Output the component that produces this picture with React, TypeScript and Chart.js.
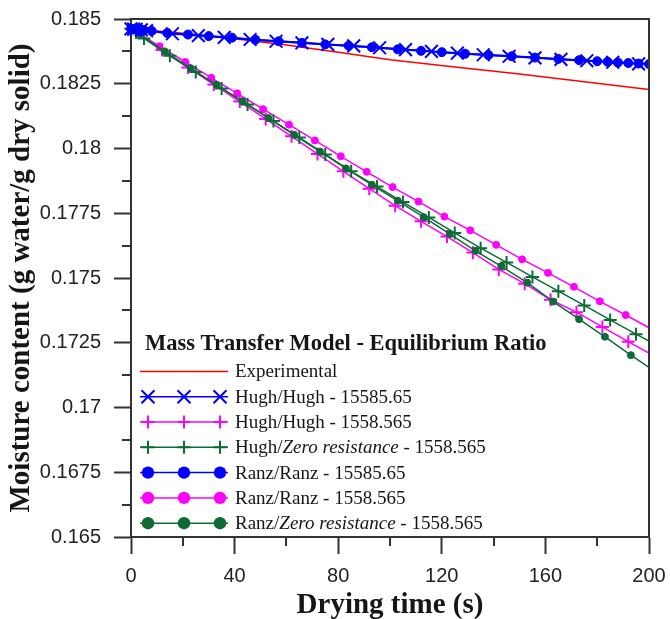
import React, { useEffect, useRef } from 'react';
import { Chart, registerables } from 'chart.js';

Chart.register(...registerables);

// ---------- axis ticks ----------
const xTicks = [0, 40, 80, 120, 160, 200];
const xMinorTicks = [20, 60, 100, 140, 180];
const yTicks = [0.165, 0.1675, 0.17, 0.1725, 0.175, 0.1775, 0.18, 0.1825, 0.185];
const yTickLabels = ['0.165', '0.1675', '0.17', '0.1725', '0.175', '0.1775', '0.18', '0.1825', '0.185'];
const yMinorTicks = [0.16625, 0.16875, 0.17125, 0.17375, 0.17625, 0.17875, 0.18125, 0.18375];

const xTitle = 'Drying time (s)';
const yTitle = 'Moisture content (g water/g dry solid)';
const legendTitle = 'Mass Transfer Model - Equilibrium Ratio';

// ---------- series ----------
// Experimental
const expTime = [0, 20, 40, 60, 80, 100, 125, 150, 175, 200];
const expMoisture = [0.18462, 0.18445, 0.18424, 0.184, 0.18372, 0.18343, 0.18315, 0.18288, 0.18258, 0.18228];

// Hugh/Hugh - 15585.65 (blue X)
const hhHighTime = [0, 1, 2, 4, 6, 16, 26, 36, 46, 56, 66, 76, 86, 96, 106, 116, 126, 136, 146, 156, 166, 176, 186, 196];
const hhHighMoisture = [0.18462, 0.18461, 0.1846, 0.18458, 0.18455, 0.18443, 0.18436, 0.18429, 0.18421, 0.18414, 0.18408, 0.18402, 0.18396, 0.18389, 0.18382, 0.18375, 0.18368, 0.18362, 0.18356, 0.1835, 0.18344, 0.18339, 0.18333, 0.18327];

// Ranz/Ranz - 15585.65 (blue circles)
const rrHighTime = [0, 1, 3, 5, 8, 14, 22, 30, 39, 48, 57, 66, 75, 84, 93, 103, 112, 120, 129, 138, 147, 156, 165, 173, 180, 184, 188, 192, 196, 200];
const rrHighMoisture = [0.18462, 0.18461, 0.18459, 0.18457, 0.18454, 0.18446, 0.1844, 0.18434, 0.18428, 0.1842, 0.18414, 0.18408, 0.18402, 0.18397, 0.18391, 0.18383, 0.18377, 0.18372, 0.18366, 0.18361, 0.18356, 0.18351, 0.18346, 0.18341, 0.18337, 0.18335, 0.18332, 0.1833, 0.18328, 0.18326];

// Hugh/Zero resistance - 1558.565 (green +)
const hzTime = [0, 2, 5, 15, 25, 35, 45, 55, 65, 75, 85, 95, 105, 115, 125, 135, 145, 155, 165, 175, 185, 195, 200];
const hzMoisture = [0.18462, 0.18448, 0.18425, 0.18358, 0.18295, 0.18232, 0.1817, 0.18106, 0.18042, 0.17977, 0.17912, 0.17853, 0.17793, 0.17734, 0.17674, 0.17615, 0.1756, 0.17504, 0.17449, 0.17394, 0.17338, 0.17283, 0.17256];

// Ranz/Zero resistance - 1558.565 (green circles)
const rzTime = [0, 3, 13, 23, 33, 43, 53, 63, 73, 83, 93, 103, 113, 123, 133, 143, 153, 163, 173, 183, 193, 200];
const rzMoisture = [0.18462, 0.18442, 0.18375, 0.1831, 0.18246, 0.18182, 0.18118, 0.18053, 0.17988, 0.17923, 0.1786, 0.17798, 0.17735, 0.1767, 0.17605, 0.17545, 0.17482, 0.17409, 0.17341, 0.17273, 0.17202, 0.17155];

// Hugh/Hugh - 1558.565 (magenta +)
const hhLowTime = [0, 2, 12, 22, 32, 42, 52, 62, 72, 82, 92, 102, 112, 122, 132, 142, 152, 162, 172, 182, 192, 200];
const hhLowMoisture = [0.18462, 0.18449, 0.1838, 0.18313, 0.18247, 0.18181, 0.18114, 0.18047, 0.17979, 0.17912, 0.17845, 0.17779, 0.17719, 0.1766, 0.17598, 0.17533, 0.17478, 0.17416, 0.17368, 0.17311, 0.17254, 0.1721];

// Ranz/Ranz - 1558.565 (magenta circles)
const rrLowTime = [0, 1, 11, 21, 31, 41, 51, 61, 71, 81, 91, 101, 111, 121, 131, 141, 151, 161, 171, 181, 191, 200];
const rrLowMoisture = [0.18462, 0.18456, 0.18395, 0.18334, 0.18273, 0.18213, 0.18152, 0.18092, 0.18031, 0.1797, 0.1791, 0.17851, 0.17795, 0.17737, 0.17684, 0.17628, 0.17572, 0.1752, 0.17466, 0.1741, 0.17357, 0.17308];

// ---------- styles ----------
const BLUE = '#0000ff';
const MAGENTA = '#ff00ff';
const GREEN = '#0d6b35';
const RED = '#ff0000';
const AXIS = '#333333';
const TEXT = '#161616';

type Part = { text: string; italic?: boolean };
type LegendEntry = { color: string; marker: 'none' | 'x' | 'plus' | 'circle'; parts: Part[] };

const legendEntries: LegendEntry[] = [
  { color: RED, marker: 'none', parts: [{ text: 'Experimental' }] },
  { color: BLUE, marker: 'x', parts: [{ text: 'Hugh/Hugh - 15585.65' }] },
  { color: MAGENTA, marker: 'plus', parts: [{ text: 'Hugh/Hugh - 1558.565' }] },
  { color: GREEN, marker: 'plus', parts: [{ text: 'Hugh/' }, { text: 'Zero resistance', italic: true }, { text: ' - 1558.565' }] },
  { color: BLUE, marker: 'circle', parts: [{ text: 'Ranz/Ranz - 15585.65' }] },
  { color: MAGENTA, marker: 'circle', parts: [{ text: 'Ranz/Ranz - 1558.565' }] },
  { color: GREEN, marker: 'circle', parts: [{ text: 'Ranz/' }, { text: 'Zero resistance', italic: true }, { text: ' - 1558.565' }] },
];

const pts = (t: number[], v: number[]) => t.map((x, i) => ({ x, y: v[i] }));

function drawMarker(ctx: CanvasRenderingContext2D, kind: string, x: number, y: number, color: string) {
  ctx.save();
  ctx.strokeStyle = color;
  ctx.fillStyle = color;
  ctx.lineWidth = 2;
  ctx.beginPath();
  if (kind === 'x') {
    const r = 6.5;
    ctx.moveTo(x - r, y - r); ctx.lineTo(x + r, y + r);
    ctx.moveTo(x - r, y + r); ctx.lineTo(x + r, y - r);
    ctx.stroke();
  } else if (kind === 'plus') {
    const r = 6.5;
    ctx.moveTo(x, y - r); ctx.lineTo(x, y + r);
    ctx.moveTo(x - r, y); ctx.lineTo(x + r, y);
    ctx.stroke();
  } else if (kind === 'circle') {
    ctx.arc(x, y, 6.2, 0, Math.PI * 2);
    ctx.fill();
  }
  ctx.restore();
}

const decorPlugin = {
  id: 'decor',
  afterDraw(chart: any) {
    const ctx: CanvasRenderingContext2D = chart.ctx;
    const ca = chart.chartArea;
    const xs = chart.scales.x;
    const ys = chart.scales.y;
    ctx.save();
    // minor ticks
    ctx.strokeStyle = AXIS;
    ctx.lineWidth = 2;
    ctx.beginPath();
    xMinorTicks.forEach((v) => {
      const px = Math.round(xs.getPixelForValue(v));
      ctx.moveTo(px, ca.bottom);
      ctx.lineTo(px, ca.bottom + 9);
    });
    yMinorTicks.forEach((v) => {
      const py = Math.round(ys.getPixelForValue(v));
      ctx.moveTo(ca.left - 9, py);
      ctx.lineTo(ca.left, py);
    });
    ctx.stroke();
    // frame top / right
    ctx.beginPath();
    ctx.moveTo(ca.left, ca.top);
    ctx.lineTo(ca.right, ca.top);
    ctx.lineTo(ca.right, ca.bottom);
    ctx.stroke();

    // legend
    const lx = ca.left + 9;
    const titleBase = ca.bottom - 187;
    ctx.fillStyle = TEXT;
    ctx.textBaseline = 'alphabetic';
    ctx.textAlign = 'left';
    ctx.font = 'bold 22.5px "Liberation Serif"';
    ctx.fillText(legendTitle, lx + 5, titleBase);
    legendEntries.forEach((e, i) => {
      const base = ca.bottom - 159.6 + i * 25.3;
      const cy = base - 6;
      ctx.strokeStyle = e.color;
      ctx.lineWidth = 1.5;
      ctx.beginPath();
      ctx.moveTo(lx, cy);
      ctx.lineTo(lx + 88, cy);
      ctx.stroke();
      if (e.marker !== 'none') {
        [lx + 8, lx + 44, lx + 80].forEach((mx) => drawMarker(ctx, e.marker, mx, cy, e.color));
      }
      let tx = lx + 95;
      ctx.fillStyle = TEXT;
      e.parts.forEach((p) => {
        ctx.font = (p.italic ? 'italic ' : '') + '19px "Liberation Serif"';
        ctx.fillText(p.text, tx, base);
        tx += ctx.measureText(p.text).width;
      });
    });
    ctx.restore();
  },
};

function lineSet(label: string, data: any[], color: string, style: string, radius: number, width: number, endBare: boolean) {
  const radii = data.map((d) => (endBare && d.x === 200 ? 0 : radius));
  const filled = style === 'circle';
  return {
    label,
    data,
    showLine: true,
    borderColor: color,
    backgroundColor: color,
    borderWidth: width,
    pointStyle: style,
    pointRadius: radii,
    pointBorderColor: color,
    pointBackgroundColor: color,
    pointBorderWidth: filled ? 1 : 2,
    pointHoverRadius: radii,
    clip: { left: 10, top: 10, right: 0, bottom: 10 },
  };
}

export default function App() {
  const ref = useRef<HTMLCanvasElement>(null);
  useEffect(() => {
    if (!ref.current) return;
    const chart = new Chart(ref.current, {
      type: 'scatter',
      data: {
        datasets: [
          lineSet('Hugh/Hugh - 15585.65', pts(hhHighTime, hhHighMoisture), BLUE, 'crossRot', 9, 2, false),
          lineSet('Ranz/Ranz - 15585.65', pts(rrHighTime, rrHighMoisture), BLUE, 'circle', 4.5, 2, false),
          lineSet('Hugh/Zero resistance - 1558.565', pts(hzTime, hzMoisture), GREEN, 'cross', 6.5, 1.5, true),
          lineSet('Ranz/Zero resistance - 1558.565', pts(rzTime, rzMoisture), GREEN, 'circle', 3.5, 1.5, true),
          lineSet('Hugh/Hugh - 1558.565', pts(hhLowTime, hhLowMoisture), MAGENTA, 'cross', 6.5, 1.5, true),
          lineSet('Ranz/Ranz - 1558.565', pts(rrLowTime, rrLowMoisture), MAGENTA, 'circle', 3.5, 1.5, true),
          lineSet('Experimental', pts(expTime, expMoisture), RED, 'circle', 0, 1.5, false),
        ],
      },
      options: {
        animation: false,
        responsive: false,
        events: [],
        layout: { padding: { top: 19, right: 21, left: 0, bottom: 0 } },
        plugins: { legend: { display: false }, tooltip: { enabled: false } },
        scales: {
          x: {
            type: 'linear',
            min: 0,
            max: 200,
            afterBuildTicks: (s: any) => {
              s.ticks = xTicks.map((v) => ({ value: v }));
            },
            afterFit: (s: any) => {
              s.height = 82;
              s.paddingLeft = 0;
              s.paddingRight = 0;
            },
            ticks: {
              autoSkip: false,
              maxRotation: 0,
              padding: 10,
              color: '#222',
              font: { family: '"Liberation Sans"', size: 20 },
              callback: (v: any) => String(v),
            },
            grid: { drawOnChartArea: false, drawTicks: true, tickLength: 17, tickWidth: 2, tickColor: AXIS },
            border: { display: true, color: AXIS, width: 2 },
            title: {
              display: true,
              text: xTitle,
              color: TEXT,
              font: { family: '"Liberation Serif"', size: 29, weight: 'bold' },
              padding: { top: 0, bottom: -4 },
            },
          },
          y: {
            type: 'linear',
            min: 0.165,
            max: 0.185,
            afterBuildTicks: (s: any) => {
              s.ticks = yTicks.map((v) => ({ value: v }));
            },
            afterFit: (s: any) => {
              s.width = 131;
              s.paddingTop = 0;
              s.paddingBottom = 0;
            },
            ticks: {
              autoSkip: false,
              padding: 13,
              color: '#222',
              font: { family: '"Liberation Sans"', size: 20 },
              callback: (_v: any, i: number) => yTickLabels[i],
            },
            grid: { drawOnChartArea: false, drawTicks: true, tickLength: 17, tickWidth: 2, tickColor: AXIS },
            border: { display: true, color: AXIS, width: 2 },
            title: {
              display: true,
              text: yTitle,
              color: TEXT,
              font: { family: '"Liberation Serif"', size: 29, weight: 'bold' },
              padding: { top: 4, bottom: 0 },
            },
          },
        },
      } as any,
      plugins: [decorPlugin],
    } as any);
    return () => chart.destroy();
  }, []);
  return (
    <div style={{ position: 'absolute', left: 0, top: 0, width: 670, height: 619, background: '#fff', overflow: 'hidden' }}>
      <canvas ref={ref} width={670} height={619} style={{ display: 'block' }} />
    </div>
  );
}
